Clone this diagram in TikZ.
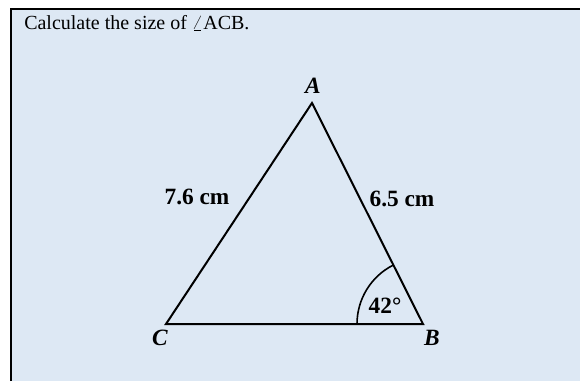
\documentclass[tikz,border=0pt]{standalone}
\usepackage{fontspec}
\setmainfont{Liberation Serif}
\usepackage{tikz}
\usetikzlibrary{calc}
\definecolor{cellblue}{RGB}{221,232,244}

\begin{document}
\begin{tikzpicture}[x=0.75pt, y=-0.75pt,
    side/.style={inner sep=0pt, font=\bfseries\fontsize{17.5}{20}\selectfont},
    vertex/.style={inner sep=0pt, font=\bfseries\itshape\fontsize{17.5}{20}\selectfont}]
  \useasboundingbox (0,0) rectangle (580,381);
  % cell background and frame
  \fill[cellblue] (11,9) rectangle (580,381);
  \draw[line width=2pt] (11,381) -- (11,9) -- (580,9);
  \node[anchor=base west, inner sep=0pt, font=\fontsize{15}{18}\selectfont] (q) at (24,30)
    {Calculate the size of \ensuremath{\angle}ACB.};

  % triangle
  \coordinate (A) at (312,103);
  \coordinate (B) at (423,324);
  \coordinate (C) at (166,324);
  \draw[line width=1.5pt, line join=miter] (A) -- (B) -- (C) -- cycle;
  \draw[line width=1.2pt] ($(B)+(-66,0)$) arc[start angle=180, end angle=243, radius=66];

  \node[vertex] (la) at (313,86) {A};
  \node[vertex] (lb) at (432,338) {B};
  \node[vertex] (lc) at (160,338) {C};
  \node[side] (ac) at (197,197) {7.6 cm};
  \node[side] (ab) at (402,199) {6.5 cm};
  \node[side] (ang) at (385,306) {42\textdegree};
\end{tikzpicture}
\end{document}
